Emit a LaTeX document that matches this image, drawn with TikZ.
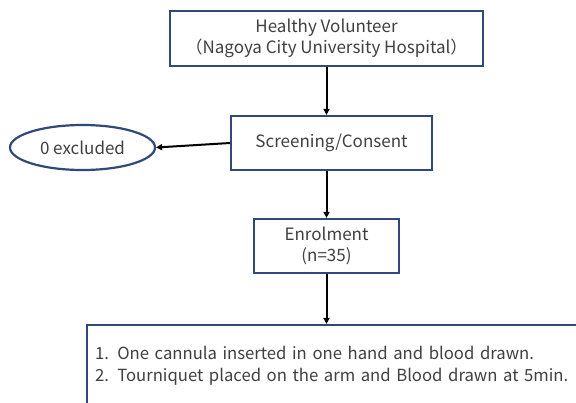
\documentclass[tikz,border=0pt]{standalone}
\usepackage{fontspec}
\setmainfont{Noto Sans CJK JP}
\usetikzlibrary{shapes.geometric,arrows.meta}
\definecolor{boxblue}{HTML}{2F4A78}
\definecolor{txtgray}{HTML}{404040}
\tikzset{
  stepbox/.style={draw=boxblue, line width=2.2pt, fill=white, text=txtgray, align=center, inner sep=0pt},
  link/.style={-{Triangle[length=6pt,width=6pt]}, line width=2pt},
}
\begin{document}
\begin{tikzpicture}[x=1pt,y=-1pt,font=\fontsize{17}{21}\selectfont]
  \useasboundingbox (0,0) rectangle (576,402);
  \clip (0,0) rectangle (576,402);
  % boxes
  \node[stepbox, minimum width=313pt, minimum height=55pt] (volunteer) at (326.5,38.5)
    {Healthy Volunteer\\（Nagoya City University Hospital）};
  \node[stepbox, minimum width=201pt, minimum height=54pt] (screening) at (331.5,143)
    {Screening/Consent};
  \node[stepbox, minimum width=145pt, minimum height=54pt] (enrol) at (326.5,246)
    {Enrolment\\(n=35)};
  \node[stepbox, ellipse, minimum width=145pt, minimum height=45pt] (excluded) at (82.5,147.5)
    {0 excluded};
  \node[stepbox, align=left, text width=497pt, inner xsep=8pt, minimum height=82pt,
        font=\fontsize{16.7}{22}\selectfont] (protocol) at (343.5,366)
    {1. One cannula inserted in one hand and blood drawn.\\
     2. Tourniquet placed on the arm and Blood drawn at 5min.};
  % arrows
  \draw[link] (volunteer.south) -- (volunteer.south |- screening.north);
  \draw[link] (volunteer.south |- screening.south) -- (volunteer.south |- enrol.north);
  \draw[link] (screening.west) -- (excluded.east);
  \draw[link] (enrol.south) -- (enrol.south |- protocol.north);
\end{tikzpicture}
\end{document}
